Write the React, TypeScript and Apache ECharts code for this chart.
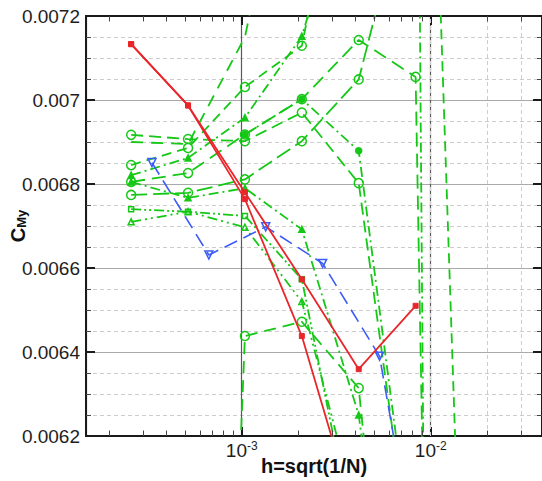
import React, { useEffect, useRef } from "react";
import * as echarts from "echarts";

// Mesh spacing h = sqrt(1/N) of the refined grids
const hLevels = [2.6e-4, 5.2e-4, 1.04e-3, 2.08e-3, 4.16e-3, 8.32e-3, 1.664e-2];
const hLevelsBlue = [3.35e-4, 6.7e-4, 1.34e-3, 2.68e-3, 5.36e-3, 1.072e-2];

// Pitching-moment coefficient C_My per mesh level
const cmyRedA = [0.007133, 0.006987, 0.006764, 0.006438, 0.00598];
const cmyRedB = [0.007133, 0.006987, 0.00678, 0.006573, 0.006359, 0.00651];
const cmyBlue = [0.006851, 0.006631, 0.006698, 0.006611, 0.00639, 0.00562];

const cmyGreenA = [0.006917, 0.006907, 0.006902, 0.00697, 0.006802, 0.005812];
const cmyGreenB = [0.006845, 0.006886, 0.007031, 0.007129, 0.0078, 0.00896, 0.00498];
const cmyGreenC = [0.006821, 0.006862, 0.006958, 0.007152, 0.0076, 0.0085, -0.0088];
const cmyGreenD = [0.006805, 0.006826, 0.006918, 0.007002, 0.007143, 0.007055, -0.0004];
const cmyGreenE = [0.006774, 0.006779, 0.006811, 0.006902, 0.007049, 0.00758];
const cmyGreenF = [0.00674, 0.006734, 0.006724, 0.006573, 0.0059];
const cmyGreenG = [0.006805, 0.006767, 0.00679, 0.006692, 0.00625, 0.0052];
const cmyGreenH = [null, 0.00305, 0.006438, 0.006472, 0.006314, 0.005];
const cmyGreenI = [0.00671, 0.006734, 0.006697, 0.00652, 0.006];
const cmyGreenJ = [0.0069, 0.006895, 0.00715, 0.0078];
const cmyGreenK = [null, null, 0.006918, 0.007002, 0.006879, 0.005843];

// Reference levels (horizontal bands)
const referenceLevels = [0.0068, 0.00676];

// Axis ranges
const xRange = [1.5e-4, 3.88e-2];
const yTicks = [0.0062, 0.0064, 0.0066, 0.0068, 0.007, 0.0072];

const FONT = "'Liberation Sans', Arial, Helvetica, sans-serif";
const GREEN = "#16c816";
const RED = "#e8262b";
const BLUE = "#3b5cf6";
const BROWN = "#c47f3c";

const toPairs = (xs: number[], ys: (number | null)[]) =>
  ys
    .map((v, i) => (v == null ? null : [xs[i], v]))
    .filter((p) => p !== null) as number[][];

// Minor decade positions 2..9 x 10^k inside the x range
const minorX: number[] = [];
for (let p = -4; p <= -2; p++) {
  for (let k = 2; k <= 9; k++) {
    const v = k * Math.pow(10, p);
    if (v > xRange[0] && v < xRange[1]) minorX.push(v);
  }
}

type GreenDef = {
  values: (number | null)[];
  symbol: string;
  size: number;
  filled: boolean;
  dash: number[];
};

const greenDefs: GreenDef[] = [
  { values: cmyGreenA, symbol: "circle", size: 9, filled: false, dash: [12, 6] },
  { values: cmyGreenB, symbol: "circle", size: 9, filled: false, dash: [10, 6] },
  { values: cmyGreenC, symbol: "triangle", size: 6, filled: true, dash: [10, 4, 2, 4] },
  { values: cmyGreenD, symbol: "circle", size: 9, filled: false, dash: [14, 7] },
  { values: cmyGreenE, symbol: "circle", size: 9, filled: false, dash: [16, 6] },
  { values: cmyGreenF, symbol: "rect", size: 5, filled: false, dash: [10, 3, 2, 3, 2, 3] },
  { values: cmyGreenG, symbol: "triangle", size: 6, filled: true, dash: [10, 4, 2, 4] },
  { values: cmyGreenH, symbol: "circle", size: 9, filled: false, dash: [12, 7] },
  { values: cmyGreenI, symbol: "triangle", size: 6, filled: false, dash: [10, 4, 2, 4, 2, 4] },
  { values: cmyGreenJ, symbol: "none", size: 0, filled: false, dash: [12, 8] },
  { values: cmyGreenK, symbol: "circle", size: 6, filled: true, dash: [10, 4, 2, 4] },
];

const axisText = { color: "#1e1e1e", fontFamily: FONT };

function buildOption() {
  const greenSeries = greenDefs.map((g) => ({
    type: "line",
    data: toPairs(hLevels, g.values),
    symbol: g.symbol,
    symbolSize: g.size,
    showSymbol: g.symbol !== "none",
    clip: true,
    z: 2,
    lineStyle: { color: GREEN, width: 1.8, type: g.dash },
    itemStyle: {
      color: g.filled ? GREEN : "rgba(255,255,255,0)",
      borderColor: GREEN,
      borderWidth: 1.5,
    },
  }));

  const redStyle = {
    type: "line",
    symbol: "rect",
    symbolSize: 5,
    clip: true,
    z: 5,
    lineStyle: { color: RED, width: 1.8, type: "solid" },
    itemStyle: { color: RED, borderColor: RED, borderWidth: 1 },
  };

  const yAxisBase = {
    type: "value",
    min: yTicks[0],
    max: yTicks[yTicks.length - 1],
    interval: yTicks[1] - yTicks[0],
    axisLine: { show: true, lineStyle: { color: "#1a1a1a", width: 2 } },
    axisTick: { show: true, inside: true, length: 9, lineStyle: { color: "#1a1a1a", width: 2 } },
    minorTick: { show: true, splitNumber: 4, length: 5, lineStyle: { color: "#444", width: 1 } },
  };

  return {
    animation: false,
    backgroundColor: "#ffffff",
    grid: {
      left: 86,
      top: 16,
      right: 0,
      bottom: 45,
      outerBoundsMode: "none",
      containLabel: false,
      show: true,
      borderColor: "#1a1a1a",
      borderWidth: 2,
      backgroundColor: "rgba(0,0,0,0)",
    },
    xAxis: [
      {
        type: "log",
        logBase: 10,
        min: xRange[0],
        max: xRange[1],
        position: "bottom",
        axisLine: { show: true, lineStyle: { color: "#1a1a1a", width: 2 } },
        axisTick: { show: true, inside: true, length: 9, lineStyle: { color: "#1a1a1a", width: 2 } },
        axisLabel: {
          margin: 4,
          formatter: (v: number) => {
            const l = Math.log10(v);
            const r = Math.round(l);
            if (Math.abs(l - r) > 1e-6) return "";
            return `{b|10}{s|${r}}`;
          },
          rich: {
            b: { fontSize: 19, ...axisText },
            s: { fontSize: 12, padding: [0, 0, 9, 0], ...axisText },
          },
        },
        splitLine: { show: true, lineStyle: { color: "#5a5a5a", width: 1.2 } },
        name: "h=sqrt(1/N)",
        nameLocation: "middle",
        nameGap: 20,
        nameMoveOverlap: false,
        nameTextStyle: { fontSize: 20, fontWeight: "bold", ...axisText, color: "#111" },
      },
      {
        type: "log",
        logBase: 10,
        min: xRange[0],
        max: xRange[1],
        position: "top",
        axisLine: { show: true, lineStyle: { color: "#1a1a1a", width: 2 } },
        axisTick: { show: true, inside: true, length: 9, lineStyle: { color: "#1a1a1a", width: 2 } },
        axisLabel: { show: false },
        splitLine: { show: false },
      },
    ],
    yAxis: [
      {
        ...yAxisBase,
        position: "left",
        axisLabel: {
          fontSize: 19,
          margin: 6,
          ...axisText,
          formatter: (v: number) => String(parseFloat(v.toFixed(6))),
        },
        splitLine: { show: true, lineStyle: { color: "#a9a9a9", width: 1.2 } },
        minorSplitLine: { show: true, lineStyle: { color: "#cdcdcd", width: 1, type: [4, 3] } },
        name: "{c|C}{s|My}",
        nameLocation: "middle",
        nameRotate: 90,
        nameGap: 52,
        nameMoveOverlap: false,
        nameTextStyle: {
          rich: {
            c: { fontSize: 20, fontWeight: "bold", padding: [0, 0, 6, 0], ...axisText, color: "#111" },
            s: { fontSize: 13, fontWeight: "bold", ...axisText, color: "#111" },
          },
        },
      },
      {
        ...yAxisBase,
        position: "right",
        axisLabel: { show: false },
        splitLine: { show: false },
      },
    ],
    series: [
      // minor decade grid lines and their ticks
      {
        type: "line",
        data: [],
        silent: true,
        z: 1,
        markLine: {
          silent: true,
          symbol: ["none", "none"],
          label: { show: false },
          animation: false,
          lineStyle: { color: "#cdcdcd", width: 1, type: [4, 3] },
          data: minorX.map((v) => ({ xAxis: v })),
        },
      },
      {
        type: "line",
        data: [],
        silent: true,
        z: 1,
        markLine: {
          silent: true,
          symbol: ["none", "none"],
          label: { show: false },
          animation: false,
          lineStyle: { color: "#444", width: 1, type: "solid" },
          data: minorX.flatMap((v) => [
            [{ coord: [v, yTicks[0]] }, { coord: [v, yTicks[0] + 0.000013] }],
            [{ coord: [v, yTicks[yTicks.length - 1]] }, { coord: [v, yTicks[yTicks.length - 1] - 0.000013] }],
          ]),
        },
      },
      ...greenSeries,
      {
        type: "line",
        data: [],
        silent: true,
        z: 3,
        markLine: {
          silent: true,
          symbol: ["none", "none"],
          label: { show: false },
          animation: false,
          lineStyle: { color: BROWN, width: 3, type: "solid" },
          data: referenceLevels.map((v) => ({ yAxis: v })),
        },
      },
      {
        type: "line",
        data: toPairs(hLevelsBlue, cmyBlue),
        symbol: "triangle",
        symbolRotate: 180,
        symbolSize: 8,
        clip: true,
        z: 4,
        lineStyle: { color: BLUE, width: 1.6, type: [14, 7] },
        itemStyle: { color: "rgba(255,255,255,0)", borderColor: BLUE, borderWidth: 1.5 },
      },
      { ...redStyle, data: toPairs(hLevels, cmyRedA) },
      { ...redStyle, data: toPairs(hLevels, cmyRedB) },
    ],
  };
}

export default function App() {
  const ref = useRef<HTMLDivElement>(null);
  useEffect(() => {
    if (!ref.current) return;
    const chart = echarts.init(ref.current, undefined, { renderer: "svg" });
    chart.setOption(buildOption() as any);
    return () => chart.dispose();
  }, []);
  return (
    <div
      ref={ref}
      style={{ position: "fixed", left: 0, top: 0, width: 542, height: 481, background: "#fff" }}
    />
  );
}
